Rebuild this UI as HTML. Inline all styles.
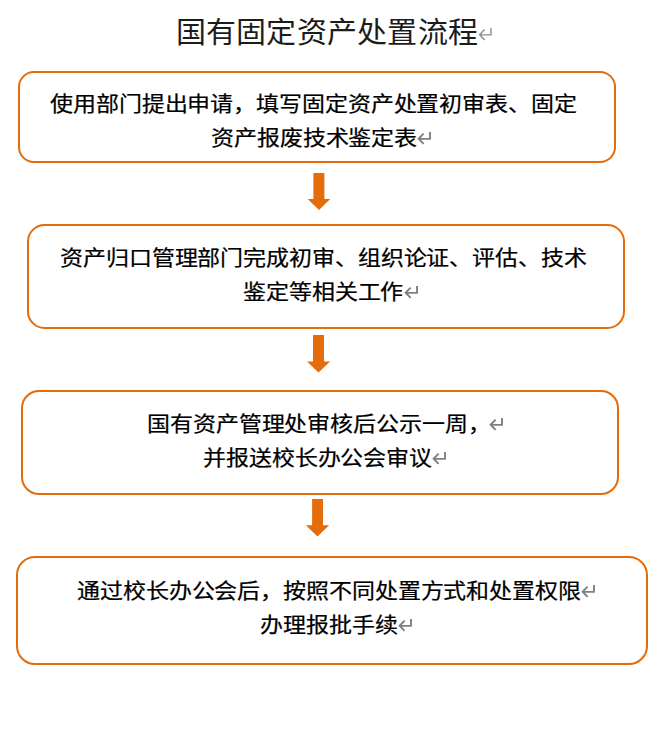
<!DOCTYPE html>
<html lang="zh-CN">
<head>
<meta charset="utf-8">
<style>
html,body{margin:0;padding:0;background:#fff;}
body{width:667px;height:743px;position:relative;overflow:hidden;font-family:"Liberation Serif",serif;color:#000;}
.box{position:absolute;box-sizing:border-box;border:2px solid #E46C0A;border-radius:17px;background:#fff;}
.t{position:absolute;white-space:nowrap;font-size:23px;letter-spacing:-0.1px;line-height:1;font-weight:400;-webkit-text-stroke:0.25px #000;transform:scaleY(0.91);transform-origin:0 0;}
.title{position:absolute;white-space:nowrap;font-size:30px;letter-spacing:0.22px;line-height:1;font-weight:400;transform:scaleY(0.97);transform-origin:0 0;color:#1c1c1c;}
.pm{position:absolute;}
.arrow{position:absolute;}
</style>
</head>
<body>
<div class="title" style="left:175.8px;top:18.7px;">国有固定资产处置流程</div>

<div class="box" style="left:18px;top:71px;width:598px;height:92px;border-radius:16px;"></div>
<div class="t" style="left:50px;top:94.1px;">使用部门提出申请，填写固定资产处置初审表、固定</div>
<div class="t" style="left:211px;top:128.2px;">资产报废技术鉴定表</div>

<svg class="arrow" style="left:300px;top:170px" width="40" height="45" viewBox="0 0 40 45"><path d="M13.4 3H24.4V29.1H30.2L19 40L7.7 29.1H13.4Z" fill="#E46C0A"/></svg>

<div class="box" style="left:27px;top:224px;width:598px;height:105px;border-radius:17.5px;"></div>
<div class="t" style="left:60px;top:248.2px;">资产归口管理部门完成初审、组织论证、评估、技术</div>
<div class="t" style="left:243px;top:282.0px;">鉴定等相关工作</div>

<svg class="arrow" style="left:300px;top:330px" width="40" height="45" viewBox="0 0 40 45"><path d="M13 4.9H24V31.4H30.1L18.5 42.6L7 31.4H13Z" fill="#E46C0A"/></svg>

<div class="box" style="left:21px;top:390px;width:598px;height:105px;border-radius:18px;"></div>
<div class="t" style="left:147px;top:413.5px;">国有资产管理处审核后公示一周，</div>
<div class="t" style="left:203px;top:448.2px;">并报送校长办公会审议</div>

<svg class="arrow" style="left:300px;top:495px" width="40" height="45" viewBox="0 0 40 45"><path d="M12.1 4H23V30.2H29.1L17.5 41.6L5.9 30.2H12.1Z" fill="#E46C0A"/></svg>

<div class="box" style="left:16px;top:556px;width:632px;height:109px;border-radius:19px;"></div>
<div class="t" style="left:77px;top:581.1px;">通过校长办公会后，按照不同处置方式和处置权限</div>
<div class="t" style="left:260px;top:614.7px;">办理报批手续</div>
<svg class="pm" style="left:478px;top:27px" width="16" height="14" viewBox="0 0 16 14"><path d="M13 1V7.85H1.8M6.6 2.6L1.6 7.75L6.6 12.9" fill="none" stroke="#8c8c8c" stroke-width="1.4"/></svg>
<svg class="pm" style="left:417px;top:131px" width="16" height="14" viewBox="0 0 16 14"><path d="M13 1V7.85H1.8M6.6 2.6L1.6 7.75L6.6 12.9" fill="none" stroke="#808080" stroke-width="1.9"/></svg>
<svg class="pm" style="left:404px;top:285px" width="16" height="14" viewBox="0 0 16 14"><path d="M13 1V7.85H1.8M6.6 2.6L1.6 7.75L6.6 12.9" fill="none" stroke="#808080" stroke-width="1.9"/></svg>
<svg class="pm" style="left:489px;top:417px" width="16" height="14" viewBox="0 0 16 14"><path d="M13 1V7.85H1.8M6.6 2.6L1.6 7.75L6.6 12.9" fill="none" stroke="#808080" stroke-width="1.9"/></svg>
<svg class="pm" style="left:432px;top:451px" width="16" height="14" viewBox="0 0 16 14"><path d="M13 1V7.85H1.8M6.6 2.6L1.6 7.75L6.6 12.9" fill="none" stroke="#808080" stroke-width="1.9"/></svg>
<svg class="pm" style="left:581.2px;top:583.8px" width="16" height="14" viewBox="0 0 16 14"><path d="M13 1V7.85H1.8M6.6 2.6L1.6 7.75L6.6 12.9" fill="none" stroke="#808080" stroke-width="1.9"/></svg>
<svg class="pm" style="left:398.4px;top:618.2px" width="16" height="14" viewBox="0 0 16 14"><path d="M13 1V7.85H1.8M6.6 2.6L1.6 7.75L6.6 12.9" fill="none" stroke="#808080" stroke-width="1.9"/></svg>
</body>
</html>
